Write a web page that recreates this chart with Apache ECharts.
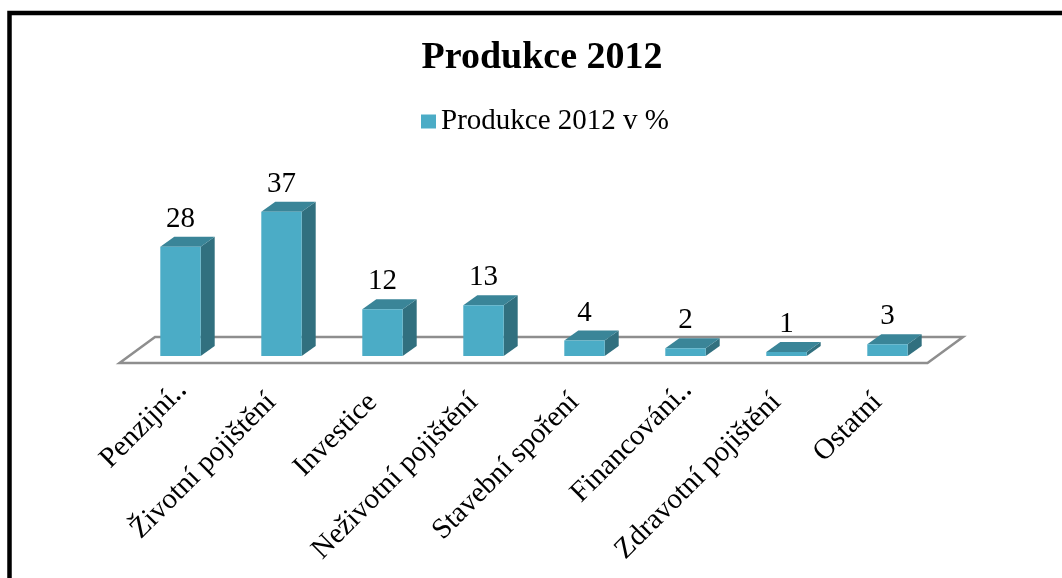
<!DOCTYPE html>
<html>
<head>
<meta charset="utf-8">
<script src="https://cdn.jsdelivr.net/npm/echarts@6/dist/echarts.min.js"></script>
<style>
  html, body { margin: 0; padding: 0; background: #fff; }
  #chart { width: 1062px; height: 578px; }
</style>
</head>
<body>
<div id="chart"></div>
<script>
// Production share by product line, 2012 (percent)
const categories = ['Penzijní‥', 'Životní pojištění', 'Investice', 'Neživotní pojištění',
                    'Stavební spoření', 'Financování‥', 'Zdravotní pojištění', 'Ostatní'];
const values = [28, 37, 12, 13, 4, 2, 1, 3];
const seriesName = 'Produkce 2012 v %';
const chartTitle = 'Produkce 2012';

const FONT = '"Liberation Serif", "Times New Roman", serif';
const FRONT = '#4BACC6';
const TOP = '#3A8598';
const SIDE = '#31707F';

// oblique projection offsets for the box depth and the floor slab
const DEPTH = [14, -10];
const FLOOR_FRONT = [-10.5, 7];
const FLOOR_BACK = [25, -19];

function renderBar(params, api) {
  const idx = api.value(0);
  const v = api.value(1);
  const base = api.coord([idx, 0]);
  const top = api.coord([idx, v]);
  const band = api.size([1, 0])[0];
  const w = band * 0.4;
  const x0 = base[0] - w / 2, x1 = base[0] + w / 2;
  const yB = base[1], yT = top[1];
  const dx = DEPTH[0], dy = DEPTH[1];
  return {
    type: 'group',
    children: [
      { type: 'polygon', shape: { points: [[x1, yT], [x1 + dx, yT + dy], [x1 + dx, yB + dy], [x1, yB]] },
        style: { fill: SIDE } },
      { type: 'polygon', shape: { points: [[x0, yT], [x1, yT], [x1 + dx, yT + dy], [x0 + dx, yT + dy]] },
        style: { fill: TOP } },
      { type: 'rect', shape: { x: x0, y: yT, width: w, height: yB - yT },
        style: { fill: FRONT } },
      { type: 'text', x: base[0], y: yT - 13,
        style: { text: String(v), fill: '#000', font: '29px ' + FONT, align: 'center', verticalAlign: 'bottom' } }
    ]
  };
}

function renderFloor(params, api) {
  const band = api.size([1, 0])[0];
  const y0 = api.coord([0, 0])[1];
  const left = api.coord([0, 0])[0] - band / 2;
  const right = api.coord([categories.length - 1, 0])[0] + band / 2;
  return {
    type: 'polygon',
    shape: { points: [
      [left + FLOOR_FRONT[0], y0 + FLOOR_FRONT[1]],
      [right + FLOOR_FRONT[0], y0 + FLOOR_FRONT[1]],
      [right + FLOOR_BACK[0], y0 + FLOOR_BACK[1]],
      [left + FLOOR_BACK[0], y0 + FLOOR_BACK[1]]
    ] },
    style: { fill: '#fff', stroke: '#8E8E8E', lineWidth: 2.5, lineJoin: 'miter' }
  };
}

// shortened names sit a little further up along their slant
const axisData = categories.map(c => c.endsWith('‥')
  ? { value: c, textStyle: { padding: [0, -4, 0, 0] } }
  : c);

const chart = echarts.init(document.getElementById('chart'), null, { renderer: 'canvas' });

chart.setOption({
  backgroundColor: '#fff',
  animation: false,
  graphic: [{
    type: 'rect', z: 100,
    shape: { x: 9.5, y: 13, width: 1100, height: 600 },
    style: { fill: 'none', stroke: '#000', lineWidth: 4.5 }
  }],
  title: {
    text: chartTitle,
    left: 537, top: 34, textAlign: 'center',
    textStyle: { fontFamily: FONT, fontSize: 38, fontWeight: 'bold', color: '#000' }
  },
  legend: {
    data: [{ name: seriesName, icon: 'rect' }],
    left: 421, top: 107, padding: 0,
    itemWidth: 15, itemHeight: 14, itemGap: 10,
    textStyle: { fontFamily: FONT, fontSize: 29, color: '#000' }
  },
  grid: { left: 130, right: 124, top: 161, bottom: 222 },
  xAxis: {
    type: 'category',
    data: axisData,
    axisLine: { show: false },
    axisTick: { show: false },
    splitLine: { show: false },
    axisLabel: {
      interval: 0, rotate: 45, margin: 32,
      padding: [0, 14, 0, 0],
      fontFamily: FONT, fontSize: 29, color: '#000'
    }
  },
  yAxis: { type: 'value', min: 0, max: 50, show: false },
  series: [
    {
      name: 'floor', type: 'custom', z: 1, silent: true,
      renderItem: renderFloor,
      data: [[0, 0]]
    },
    {
      name: seriesName, type: 'custom', z: 2,
      itemStyle: { color: FRONT },
      renderItem: renderBar,
      encode: { x: 0, y: 1 },
      data: values.map((v, i) => [i, v])
    }
  ]
});
</script>
</body>
</html>
